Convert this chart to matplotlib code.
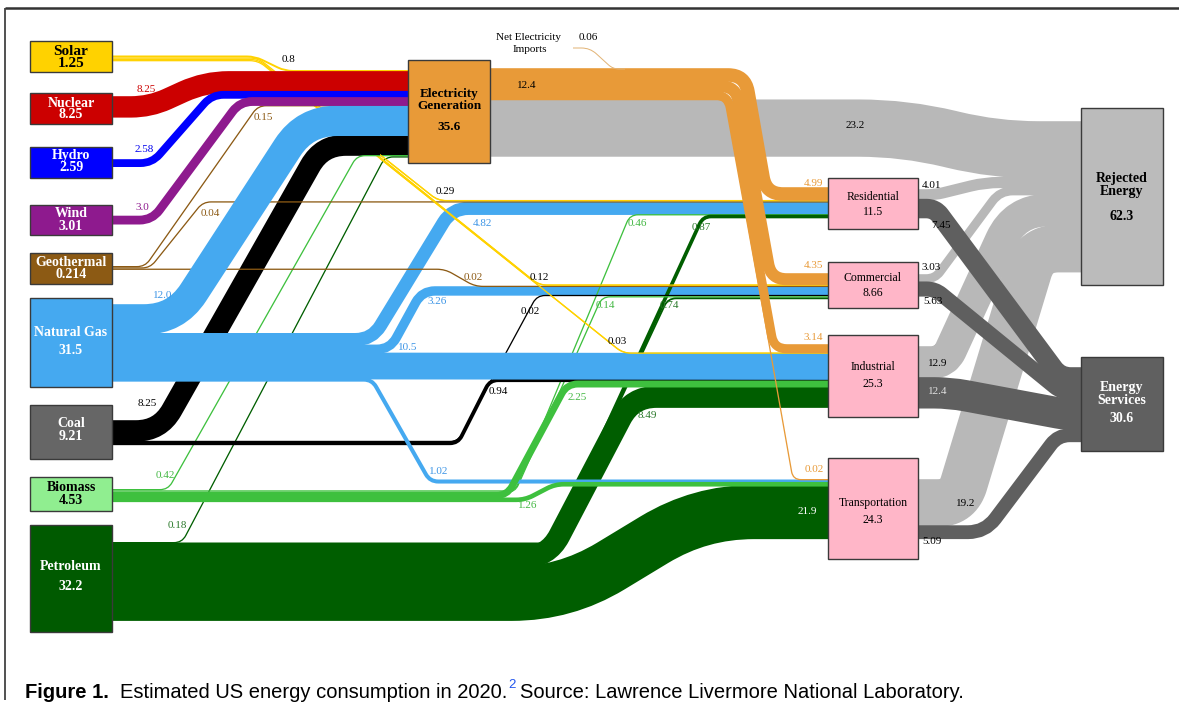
import numpy as np
import matplotlib
matplotlib.use('Agg')
import matplotlib.pyplot as plt
from matplotlib.path import Path
from matplotlib.patches import PathPatch, Rectangle

# ---- values (quads) ----
source_names = ['Solar', 'Nuclear', 'Hydro', 'Wind', 'Geothermal',
                'Natural Gas', 'Coal', 'Biomass', 'Petroleum']
source_vals = [1.25, 8.25, 2.59, 3.01, 0.214, 31.5, 9.21, 4.53, 32.2]
sector_names = ['Residential', 'Commercial', 'Industrial', 'Transportation']
sector_keys = ['Res', 'Com', 'Ind', 'Trans']
sector_vals = [11.5, 8.66, 25.3, 24.3]
elec_val = 35.6
elec_delivered = 12.4
net_imports = 0.06
rejected_val = 62.3
services_val = 30.6

flow_src = ['Solar', 'Nuclear', 'Hydro', 'Wind', 'Geothermal', 'Natural Gas', 'Coal', 'Biomass', 'Petroleum',
            'Elec', 'Solar', 'Geothermal', 'Natural Gas', 'Biomass', 'Petroleum',
            'Elec', 'Solar', 'Geothermal', 'Natural Gas', 'Coal', 'Biomass', 'Petroleum',
            'Elec', 'Solar', 'Natural Gas', 'Coal', 'Biomass', 'Petroleum',
            'Elec', 'Natural Gas', 'Biomass', 'Petroleum',
            'Elec',
            'Res', 'Res', 'Com', 'Com', 'Ind', 'Ind', 'Trans', 'Trans']
flow_dst = ['Elec'] * 9 + ['Res'] * 6 + ['Com'] * 7 + ['Ind'] * 6 + ['Trans'] * 4 + ['Rej'] + \
           ['Rej', 'Svc', 'Rej', 'Svc', 'Rej', 'Svc', 'Rej', 'Svc']
flow_val = [0.8, 8.25, 2.58, 3.0, 0.15, 12.0, 8.25, 0.42, 0.18,
            4.99, 0.29, 0.04, 4.82, 0.46, 0.87,
            4.35, 0.12, 0.02, 3.26, 0.02, 0.14, 0.74,
            3.14, 0.03, 10.5, 0.94, 2.25, 8.49,
            0.02, 1.02, 1.26, 21.9,
            23.2,
            4.01, 7.45, 3.03, 5.63, 12.9, 12.4, 19.2, 5.09]
flow_txt = ['0.8', '8.25', '2.58', '3.0', '0.15', '12.0', '8.25', '0.42', '0.18',
            '4.99', '0.29', '0.04', '4.82', '0.46', '0.87',
            '4.35', '0.12', '0.02', '3.26', '0.02', '0.14', '0.74',
            '3.14', '0.03', '10.5', '0.94', '2.25', '8.49',
            '0.02', '1.02', '1.26', '21.9',
            '23.2',
            '4.01', '7.45', '3.03', '5.63', '12.9', '12.4', '19.2', '5.09']

# ---- layout (pixels) ----
W, H, DPI = 1179, 722, 100
K = 2.4       # px per quad
MINW = 1.3    # thinnest line

boxes = {
    'Solar': (30, 41, 82, 31), 'Nuclear': (30, 93, 82, 31), 'Hydro': (30, 147, 82, 31),
    'Wind': (30, 205, 82, 30), 'Geothermal': (30, 253, 82, 31), 'Natural Gas': (30, 298, 82, 89),
    'Coal': (30, 405, 82, 54), 'Biomass': (30, 477, 82, 34), 'Petroleum': (30, 525, 82, 107),
    'Elec': (408, 60, 82, 103),
    'Res': (828, 178, 90, 51), 'Com': (828, 262, 90, 46), 'Ind': (828, 335, 90, 82),
    'Trans': (828, 458, 90, 101),
    'Rej': (1081, 108, 82, 177), 'Svc': (1081, 357, 82, 94),
}
out_top = {'Solar': 55.5, 'Nuclear': 97, 'Hydro': 160, 'Wind': 216.5, 'Geothermal': 266,
           'Natural Gas': 305, 'Coal': 421, 'Biomass': 489, 'Petroleum': 542,
           'Elec': 69, 'Res': 190, 'Com': 275, 'Ind': 347, 'Trans': 480}
in_top = {'Elec': 70, 'Res': 188, 'Com': 274, 'Ind': 345, 'Trans': 479, 'Rej': 122, 'Svc': 368}

routes = {
    ('Solar', 'Elec'): [(255, 285)], ('Solar', 'Res'): [(258, 438)],
    ('Solar', 'Com'): [(258, 539)], ('Solar', 'Ind'): [(258, 623)],
    ('Nuclear', 'Elec'): [(150, 205)], ('Hydro', 'Elec'): [(152, 212)], ('Wind', 'Elec'): [(152, 240)],
    ('Geothermal', 'Elec'): [(145, 258)], ('Geothermal', 'Res'): [(150, 203)],
    ('Geothermal', 'Com'): [(445, 475)],
    ('Natural Gas', 'Elec'): [(176, 305)], ('Natural Gas', 'Res'): [(372, 452)],
    ('Natural Gas', 'Com'): [(390, 422)], ('Natural Gas', 'Ind'): [],
    ('Natural Gas', 'Trans'): [(372, 430)],
    ('Coal', 'Elec'): [(160, 322)], ('Coal', 'Com'): [(458, 537)], ('Coal', 'Ind'): [(458, 490)],
    ('Biomass', 'Elec'): [(168, 357)], ('Biomass', 'Res'): [(515, 630)],
    ('Biomass', 'Com'): [(515, 602)], ('Biomass', 'Ind'): [(507, 567)],
    ('Biomass', 'Trans'): [(525, 555)],
    ('Petroleum', 'Elec'): [(182, 385)], ('Petroleum', 'Res'): [(552, 703)],
    ('Petroleum', 'Com'): [(552, 668)], ('Petroleum', 'Ind'): [(548, 632)],
    ('Petroleum', 'Trans'): [(565, 700)],
    ('Elec', 'Res'): [(745, 766)], ('Elec', 'Com'): [(736, 771)], ('Elec', 'Ind'): [(728, 774)],
    ('Elec', 'Trans'): [(726, 793)], ('Elec', 'Rej'): [(905, 995)],
    ('Res', 'Rej'): [(935, 985)], ('Res', 'Svc'): [(935, 1060)],
    ('Com', 'Rej'): [(935, 1000)], ('Com', 'Svc'): [(935, 1062)],
    ('Ind', 'Rej'): [(945, 1015)], ('Ind', 'Svc'): [(950, 1065)],
    ('Trans', 'Rej'): [(958, 1035)], ('Trans', 'Svc'): [(985, 1058)],
}

colors = {'Solar': '#FFD200', 'Nuclear': '#CC0000', 'Hydro': '#0000FF', 'Wind': '#8E1A8E',
          'Geothermal': '#8C5A14', 'Natural Gas': '#45A9F0', 'Coal': '#000000',
          'Biomass': '#3EC03E', 'Petroleum': '#005E00', 'Elec': '#E89A38',
          'Rej': '#B8B8B8', 'Svc': '#5F5F5F'}
box_colors = dict(colors, Coal='#666666', Biomass='#90EE90', Petroleum='#005A00',
                  Res='#FFB6C8', Com='#FFB6C8', Ind='#FFB6C8', Trans='#FFB6C8',
                  Rej='#BBBBBB', Svc='#606060')

c_ng, c_bio, c_pet, c_or = '#3D95E6', '#44B844', '#2B7A2B', '#E89A38'
labels = {
    ('Solar', 'Elec'): (282, 60, 'k'), ('Nuclear', 'Elec'): (137, 89, '#CC0000'),
    ('Hydro', 'Elec'): (135, 149, '#0000EE'), ('Wind', 'Elec'): (135, 208, '#8E1A8E'),
    ('Geothermal', 'Elec'): (254, 118, '#8C5A14'), ('Geothermal', 'Res'): (201, 213, '#8C5A14'),
    ('Natural Gas', 'Elec'): (153, 296, c_ng), ('Coal', 'Elec'): (138, 404, 'k'),
    ('Biomass', 'Elec'): (156, 476, c_bio), ('Petroleum', 'Elec'): (168, 526, c_pet),
    ('Solar', 'Res'): (436, 192, 'k'), ('Natural Gas', 'Res'): (473, 223, c_ng),
    ('Geothermal', 'Com'): (464, 277, '#8C5A14'), ('Solar', 'Com'): (530, 277, 'k'),
    ('Natural Gas', 'Com'): (427, 301, c_ng), ('Coal', 'Com'): (521, 311, 'k'),
    ('Biomass', 'Com'): (596, 306, c_bio), ('Petroleum', 'Com'): (660, 306, c_pet),
    ('Solar', 'Ind'): (608, 341, 'k'), ('Natural Gas', 'Ind'): (398, 348, c_ng),
    ('Coal', 'Ind'): (489, 392, 'k'), ('Biomass', 'Ind'): (568, 398, c_bio),
    ('Petroleum', 'Ind'): (638, 415, c_pet), ('Natural Gas', 'Trans'): (429, 472, c_ng),
    ('Biomass', 'Trans'): (518, 506, c_bio), ('Petroleum', 'Trans'): (798, 512, 'white'),
    ('Biomass', 'Res'): (628, 224, c_bio), ('Petroleum', 'Res'): (692, 228, c_pet),
    ('Elec', 'Res'): (804, 183, c_or), ('Elec', 'Com'): (804, 265, c_or),
    ('Elec', 'Ind'): (804, 337, c_or), ('Elec', 'Trans'): (805, 469, c_or),
    ('Elec', 'Rej'): (846, 126, 'k'),
    ('Res', 'Rej'): (922, 185, 'k'), ('Res', 'Svc'): (931, 226, 'k'),
    ('Com', 'Rej'): (922, 268, 'k'), ('Com', 'Svc'): (923, 302, 'k'),
    ('Ind', 'Rej'): (928, 363, 'k'), ('Ind', 'Svc'): (928, 392, '#E0E0E0'),
    ('Trans', 'Rej'): (956, 503, 'k'), ('Trans', 'Svc'): (922, 542, 'k'),
}


def zorder_for(s, d, v):
    if d == 'Rej':
        return 1.0
    if d == 'Svc':
        return 1.5
    if s == 'Petroleum' and v > 1:
        return 2.0
    if s == 'Solar':
        return 2.1
    if s == 'Coal' and d == 'Elec':
        return 2.2
    if d == 'Elec' and s in ('Biomass', 'Petroleum'):
        return 2.3
    if s == 'Natural Gas' and d in ('Res', 'Com'):
        return 2.4
    if s == 'Natural Gas':
        return 2.8
    if s == 'Biomass' and v > 1:
        return 3.0
    if s in ('Nuclear', 'Hydro', 'Wind'):
        return 3.4
    if s == 'Elec':
        return 3.6
    return 2.6


def smooth_path(pts, r0):
    clean = [pts[0]]
    for p in pts[1:]:
        if np.hypot(p[0] - clean[-1][0], p[1] - clean[-1][1]) > 0.5:
            clean.append(p)
    verts, codes = [clean[0]], [Path.MOVETO]
    for i in range(1, len(clean) - 1):
        p0, p1, p2 = (np.array(clean[j], float) for j in (i - 1, i, i + 1))
        d1, d2 = p1 - p0, p2 - p1
        l1, l2 = np.hypot(*d1), np.hypot(*d2)
        r = min(r0, l1 / 2, l2 / 2)
        a, b = p1 - d1 / l1 * r, p1 + d2 / l2 * r
        verts += [tuple(a), tuple(p1), tuple(b)]
        codes += [Path.LINETO, Path.CURVE3, Path.CURVE3]
    verts.append(clean[-1])
    codes.append(Path.LINETO)
    return Path(verts, codes)


fig = plt.figure(figsize=(W / DPI, H / DPI), dpi=DPI)
ax = fig.add_axes([0, 0, 1, 1])
ax.set_xlim(0, W)
ax.set_ylim(H, 0)
ax.axis('off')

SERIF = 'Liberation Serif'

# flows
out_cur = dict(out_top)
in_cur = dict(in_top)
for s, d, v, t in zip(flow_src, flow_dst, flow_val, flow_txt):
    w = max(v * K, MINW)
    ys = out_cur[s] + w / 2
    out_cur[s] += w
    yt = in_cur[d] + w / 2
    in_cur[d] += w
    bx, by, bw, bh = boxes[s]
    x0 = bx + bw
    x1 = boxes[d][0]
    pts = [(x0, ys)]
    for xa, xb in routes[(s, d)]:
        pts += [(xa, ys), (xb, yt)]
    pts.append((x1, yt))
    if d == 'Rej':
        col = colors['Rej']
    elif d == 'Svc':
        col = colors['Svc']
    else:
        col = colors[s]
    r0 = max(8, 0.9 * w + 6)
    z = zorder_for(s, d, v)
    lw = (w + (1.6 if w > 2 else 0)) * 72 / DPI   # slight overlap hides seams
    path = smooth_path(pts, r0)
    ax.add_patch(PathPatch(path, facecolor='none', edgecolor=col, lw=lw,
                           capstyle='butt', joinstyle='round', zorder=z))
    if s == 'Solar' and d != 'Elec':
        # solar line emerges from under the electricity bundle
        top = PathPatch(path, facecolor='none', edgecolor=col, lw=lw,
                        capstyle='butt', zorder=3.2)
        ax.add_patch(top)
        top.set_clip_path(Rectangle((380, 0), W, H, transform=ax.transData))
    lx, ly, lc = labels[(s, d)]
    ax.text(lx, ly, t, color=lc, fontsize=8, family=SERIF, ha='left', va='center', zorder=7)

# net electricity imports
imp_path = smooth_path([(573, 48), (590, 48), (613, 69), (625, 69)], 10)
ax.add_patch(PathPatch(imp_path, facecolor='none', edgecolor='#E2B477',
                       lw=max(net_imports * K, 1.0) * 72 / DPI, zorder=3.7))
ax.text(529, 37, 'Net Electricity', fontsize=8, family=SERIF, ha='center', va='center')
ax.text(530, 50, 'Imports', fontsize=8, family=SERIF, ha='center', va='center')
ax.text(588, 38, f'{net_imports}', fontsize=8, family=SERIF, ha='center', va='center')
ax.text(517, 86, f'{elec_delivered}', fontsize=8, family=SERIF, ha='left', va='center', zorder=7)

# boxes and their labels
box_text = {}
for n, v in zip(source_names, source_vals):
    box_text[n] = (n, f'{v}')
box_text['Elec'] = ('Electricity\nGeneration', f'{elec_val}')
for k, n, v in zip(sector_keys, sector_names, sector_vals):
    box_text[k] = (n, f'{v}')
box_text['Rej'] = ('Rejected\nEnergy', f'{rejected_val}')
box_text['Svc'] = ('Energy\nServices', f'{services_val}')

text_y = {'Solar': (51, 64), 'Nuclear': (103, 115), 'Hydro': (155, 168), 'Wind': (213, 227),
          'Geothermal': (262, 275), 'Natural Gas': (333, 351), 'Coal': (423, 437),
          'Biomass': (487, 501), 'Petroleum': (567, 586), 'Elec': (100, 127),
          'Res': (197, 212), 'Com': (278, 293), 'Ind': (367, 384), 'Trans': (503, 520),
          'Rej': (185, 217), 'Svc': (394, 419)}
stacked = {'Solar', 'Nuclear', 'Hydro', 'Wind', 'Geothermal', 'Coal', 'Biomass'}
dark_text = {'Solar', 'Biomass', 'Elec', 'Res', 'Com', 'Ind', 'Trans', 'Rej'}

for n, (bx, by, bw, bh) in boxes.items():
    ax.add_patch(Rectangle((bx, by), bw, bh, facecolor=box_colors[n], edgecolor='#3A3A3A',
                           lw=1.0, zorder=5))
    name, val = box_text[n]
    tc = 'black' if n in dark_text else 'white'
    if n in sector_keys:
        fs, fw = 8.5, 'normal'
    elif n == 'Solar':
        fs, fw = 11, 'bold'
    elif n == 'Elec':
        fs, fw = 9.5, 'bold'
    else:
        fs, fw = 10, 'bold'
    ny, vy = text_y[n]
    cx = bx + bw / 2
    if n in stacked:
        ls = (vy - ny) / (fs * DPI / 72)
        ax.text(cx, (ny + vy) / 2, name + '\n' + val, color=tc, fontsize=fs, fontweight=fw,
                family=SERIF, ha='center', va='center', linespacing=ls, zorder=6)
    else:
        ax.text(cx, ny, name, color=tc, fontsize=fs, fontweight=fw, family=SERIF,
                ha='center', va='center', linespacing=0.95, zorder=6)
        ax.text(cx, vy, val, color=tc, fontsize=fs, fontweight=fw, family=SERIF,
                ha='center', va='center', zorder=6)

# frame
ax.plot([5, W], [8, 8], color='#333333', lw=1.8, zorder=8, solid_capstyle='butt')
ax.plot([5, 5], [8, 700], color='#333333', lw=1.2, zorder=8, solid_capstyle='butt')

# caption
SANS = 'Liberation Sans'
rend = fig.canvas.get_renderer()
cy = 693
CFS = 14.5
t1 = ax.text(25, cy, 'Figure 1.', fontsize=CFS, fontweight='bold', family=SANS, va='center')
x = t1.get_window_extent(rend).x1 + 11
t2 = ax.text(x, cy, 'Estimated US energy consumption in 2020.', fontsize=CFS, family=SANS, va='center')
x = t2.get_window_extent(rend).x1 + 1
t3 = ax.text(x, cy - 8, '2', fontsize=9.5, family=SANS, color='#2255EE', va='center')
x = t3.get_window_extent(rend).x1 + 4
ax.text(x, cy, 'Source: Lawrence Livermore National Laboratory.', fontsize=CFS, family=SANS, va='center')

fig.savefig('out.png', dpi=DPI)
